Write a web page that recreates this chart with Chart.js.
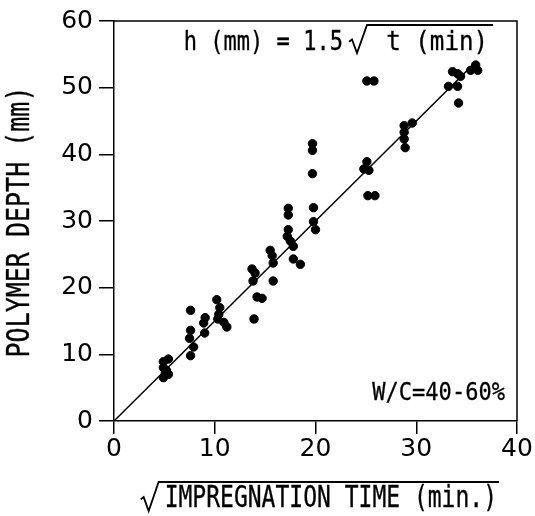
<!DOCTYPE html>
<html>
<head>
<meta charset="utf-8">
<script src="https://cdn.jsdelivr.net/npm/chart.js@4.4.1/dist/chart.umd.min.js"></script>
<style>
  html, body { margin: 0; padding: 0; background: #fff; }
</style>
</head>
<body>
<canvas id="depthChart" width="535" height="516"></canvas>
<script>
// square root of impregnation time (min.)
const sqrtTime = [
  4.9, 5.4, 4.9, 5.1, 4.9, 5.4, 5.2,
  7.6, 7.6, 7.5, 7.9, 7.6,
  9.05, 8.9, 9.0,
  10.2, 10.5, 10.4, 10.3, 10.9, 11.2,
  13.7, 14.0, 13.8, 14.2, 14.7, 13.9,
  15.5, 15.7, 15.8, 15.8,
  17.3, 17.3, 17.3, 17.2, 17.5, 17.8, 17.8, 18.5,
  19.7, 19.7, 19.7, 19.8, 19.8, 20.0,
  25.1, 25.8, 25.1, 24.8, 25.3, 25.2, 25.9,
  28.8, 29.6, 28.8, 28.8, 28.9,
  33.2, 34.1, 33.6, 34.1, 34.4, 35.4, 35.9, 36.1, 34.2
];
// polymer depth (mm)
const depth = [
  8.9, 9.3, 8.0, 7.2, 6.5, 7.0, 7.6,
  16.6, 13.6, 12.4, 11.1, 9.8,
  15.5, 14.7, 13.2,
  18.2, 17.0, 16.0, 15.3, 14.8, 14.1,
  22.8, 22.2, 21.0, 18.6, 18.4, 15.3,
  25.6, 24.8, 23.7, 21.0,
  31.9, 30.9, 28.7, 27.7, 27.0, 26.2, 24.3, 23.5,
  41.6, 40.6, 37.1, 32.0, 29.9, 28.7,
  51.0, 51.0, 38.9, 37.8, 37.6, 33.8, 33.8,
  44.3, 44.7, 43.3, 42.3, 41.0,
  50.2, 50.2, 52.4, 52.1, 51.7, 52.6, 53.4, 52.6, 47.7
];
// fitted line h = 1.5 sqrt(t)
const fitX = [0, 36];
const fitY = [0, 54];

const xTicks = [0, 10, 20, 30, 40];
const yTicks = [0, 10, 20, 30, 40, 50, 60];

const tickFont = { family: '"DejaVu Sans"', size: 25 };
const typeFont = '"DejaVu Sans Mono", monospace';

// typewriter-like text, stretched and slightly thickened
function typeText(ctx, text, x, y, size, sx, sy, align) {
  ctx.save();
  ctx.font = size + 'px ' + typeFont;
  ctx.textAlign = align || 'left';
  ctx.textBaseline = 'alphabetic';
  ctx.translate(x, y);
  ctx.scale(sx, sy);
  ctx.lineWidth = 0.25;
  ctx.fillText(text, 0, 0);
  ctx.strokeText(text, 0, 0);
  ctx.restore();
}

function textWidth(ctx, text, size) {
  ctx.font = size + 'px ' + typeFont;
  return ctx.measureText(text).width;
}

function radical(ctx, x, top, bottom, endX) {
  const h = bottom - top;
  ctx.beginPath();
  ctx.moveTo(x, top + h * 0.6);
  ctx.lineTo(x + 3, top + h * 0.52);
  ctx.lineTo(x + 8, bottom);
  ctx.lineTo(x + 18, top);
  ctx.lineTo(endX, top);
  ctx.stroke();
}

const decorations = {
  id: 'decorations',
  afterDraw(chart) {
    const { ctx, chartArea: a } = chart;
    ctx.save();
    ctx.strokeStyle = '#000';
    ctx.fillStyle = '#000';
    ctx.lineWidth = 1.5;
    // top and right frame
    ctx.beginPath();
    ctx.moveTo(a.left, a.top);
    ctx.lineTo(a.right, a.top);
    ctx.lineTo(a.right, a.bottom);
    ctx.stroke();

    // equation
    ctx.lineWidth = 1.8;
    radical(ctx, 349, 25, 53, 493);
    typeText(ctx, 't (min)', 488, 50, 21, 1.15, 1.25, 'right');
    typeText(ctx, 'h (mm) = 1.5', 343, 50, 21, 1.05, 1.25, 'right');

    // W/C label
    typeText(ctx, 'W/C=40-60%', 505, 400, 21, 1.05, 1.2, 'right');

    // x title
    const xt = 'IMPREGNATION TIME (min.)';
    typeText(ctx, xt, 497, 507, 23, 1.0, 1.3, 'right');
    const wX = textWidth(ctx, xt, 23);
    ctx.lineWidth = 1.8;
    radical(ctx, 497 - wX - 24, 482, 511, 499);

    // y title
    ctx.save();
    ctx.translate(29, 222);
    ctx.rotate(-Math.PI / 2);
    typeText(ctx, 'POLYMER DEPTH (mm)', 0, 0, 25, 1.0, 1.25, 'center');
    ctx.restore();
    ctx.restore();
  }
};

const depthCtx = document.getElementById('depthChart').getContext('2d');

const depthChart = new Chart(depthCtx, {
  type: 'scatter',
  data: {
    datasets: [
      {
        label: 'data',
        data: sqrtTime.map((x, i) => ({ x: x, y: depth[i] })),
        backgroundColor: '#000',
        borderColor: '#000',
        pointRadius: 4.2,
        pointHoverRadius: 4.2
      },
      {
        label: 'fit',
        type: 'line',
        data: fitX.map((x, i) => ({ x: x, y: fitY[i] })),
        borderColor: '#000',
        borderWidth: 1.5,
        pointRadius: 0,
        fill: false
      }
    ]
  },
  options: {
    responsive: false,
    animation: false,
    layout: { padding: { top: 15, right: 18, left: 0, bottom: 0 } },
    plugins: {
      legend: { display: false },
      tooltip: { enabled: false }
    },
    scales: {
      x: {
        type: 'linear',
        min: 0,
        max: 40,
        afterBuildTicks: s => { s.ticks = xTicks.map(v => ({ value: v })); },
        afterFit: s => { s.height = 95; },
        grid: { drawOnChartArea: false, tickLength: 13, color: '#000', lineWidth: 1.5 },
        border: { color: '#000', width: 1.5 },
        ticks: { color: '#000', font: tickFont, padding: 0, maxRotation: 0 }
      },
      y: {
        type: 'linear',
        min: 0,
        max: 60,
        afterBuildTicks: s => { s.ticks = yTicks.map(v => ({ value: v })); },
        afterFit: s => { s.width = 114; },
        grid: { drawOnChartArea: false, tickLength: 15, color: '#000', lineWidth: 1.5 },
        border: { color: '#000', width: 1.5 },
        ticks: { color: '#000', font: tickFont, padding: 6 }
      }
    }
  },
  plugins: [decorations]
});
</script>
</body>
</html>
